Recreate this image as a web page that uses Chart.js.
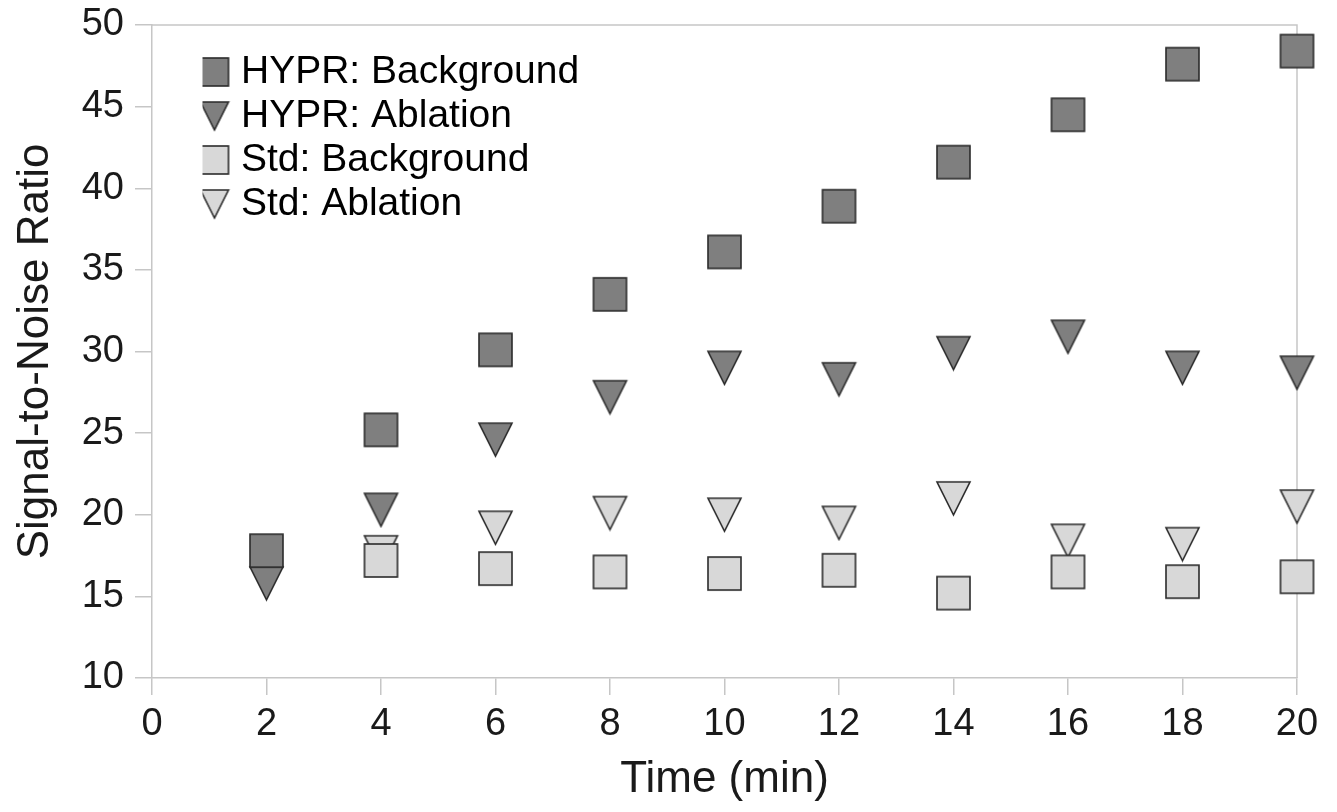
<!DOCTYPE html>
<html>
<head>
<meta charset="utf-8">
<title>Signal-to-Noise Ratio</title>
<script src="https://cdn.jsdelivr.net/npm/chart.js@4.4.0/dist/chart.umd.min.js"></script>
<style>
  html, body { margin: 0; padding: 0; background: #fff; }
</style>
</head>
<body>
<canvas id="myChart" width="1337" height="812"></canvas>
<script>
// data
const times = [2, 4, 6, 8, 10, 12, 14, 16, 18, 20];
const hyprBackground = [17.8, 25.2, 30.1, 33.5, 36.1, 38.9, 41.6, 44.5, 47.6, 48.4];
const hyprAblation = [15.8, 20.3, 24.6, 27.2, 29.0, 28.3, 29.9, 30.9, 29.0, 28.7];
const stdBackground = [null, 17.2, 16.7, 16.5, 16.4, 16.6, 15.2, 16.5, 15.9, 16.2];
const stdAblation = [null, 17.7, 19.2, 20.1, 20.0, 19.5, 21.0, 18.4, 18.2, 20.5];

const xTicks = [0, 2, 4, 6, 8, 10, 12, 14, 16, 18, 20];
const yTicks = [10, 15, 20, 25, 30, 35, 40, 45, 50];

const darkFill = '#7f7f7f';
const lightFill = '#d8d8d8';
const edge = '#2b2b2b';
const axisGrey = '#c6c6c6';
const fontFamily = '"Liberation Sans", Arial, sans-serif';

// marker images (square / downward triangle)
function makeMarker(shape, size, fill) {
  const c = document.createElement('canvas');
  c.width = size + 4;
  c.height = size + 4;
  const g = c.getContext('2d');
  g.fillStyle = fill;
  g.strokeStyle = edge;
  g.lineWidth = 1.6;
  const o = 2;
  if (shape === 'square') {
    g.fillRect(o, o, size, size);
    g.strokeRect(o, o, size, size);
  } else {
    g.beginPath();
    g.moveTo(o, o);
    g.lineTo(o + size, o);
    g.lineTo(o + size / 2, o + size);
    g.closePath();
    g.fill();
    g.stroke();
  }
  return c;
}

function toPoints(values) {
  const pts = [];
  values.forEach((v, i) => {
    if (v !== null) pts.push({ x: times[i], y: v });
  });
  return pts;
}

const series = [
  { label: 'HYPR: Background', values: hyprBackground, shape: 'square', fill: darkFill },
  { label: 'HYPR: Ablation', values: hyprAblation, shape: 'triangle', fill: darkFill },
  { label: 'Std: Background', values: stdBackground, shape: 'square', fill: lightFill },
  { label: 'Std: Ablation', values: stdAblation, shape: 'triangle', fill: lightFill },
];

const legendIcons = series.map((s) => makeMarker(s.shape, 28, s.fill));

const datasets = series.map((s) => {
  return {
    label: s.label,
    data: toPoints(s.values),
    pointStyle: makeMarker(s.shape, 33, s.fill),
    pointRadius: 17,
    pointHoverRadius: 17,
    backgroundColor: s.fill,
    borderColor: edge,
    clip: false,
  };
});

// top and right frame lines of the plot box
const frame = {
  id: 'frame',
  beforeDatasetsDraw(chart) {
    const a = chart.chartArea;
    const ctx = chart.ctx;
    ctx.save();
    ctx.strokeStyle = axisGrey;
    ctx.lineWidth = 1.5;
    ctx.beginPath();
    ctx.moveTo(a.left, a.top);
    ctx.lineTo(a.right, a.top);
    ctx.lineTo(a.right, a.bottom);
    ctx.stroke();
    ctx.restore();
  },
};

// put the legend in the upper left corner of the plot
const legendShift = {
  id: 'legendShift',
  afterLayout(chart) {
    const lg = chart.legend;
    if (lg) {
      lg.left = chart.chartArea.left + 50.5;
      lg.top = 47.5;
      lg.bottom = chart.chartArea.bottom;
    }
  },
};

const ctx = document.getElementById('myChart').getContext('2d');
const myChart = new Chart(ctx, {
  type: 'scatter',
  data: { datasets: datasets },
  options: {
    responsive: false,
    animation: false,
    layout: { padding: { top: 25, right: 40, bottom: 0, left: 0 } },
    plugins: {
      tooltip: { enabled: false },
      legend: {
        position: 'chartArea',
        align: 'start',
        labels: {
          usePointStyle: true,
          boxWidth: 14,
          padding: 5,
          color: '#1a1a1a',
          font: { family: fontFamily, size: 39 },
          generateLabels(chart) {
            return chart.data.datasets.map((ds, i) => ({
              text: ds.label,
              pointStyle: legendIcons[i],
              fillStyle: ds.backgroundColor,
              strokeStyle: edge,
              lineWidth: 0,
              hidden: false,
              datasetIndex: i,
            }));
          },
        },
      },
    },
    scales: {
      x: {
        type: 'linear',
        min: 0,
        max: 20,
        afterFit(scale) {
          scale.height = 134;
          scale.paddingLeft = 0;
          scale.paddingRight = 0;
        },
        afterBuildTicks(scale) { scale.ticks = xTicks.map((v) => ({ value: v })); },
        grid: { drawOnChartArea: false, tickLength: 17, color: axisGrey, lineWidth: 1.5 },
        border: { display: true, color: axisGrey, width: 1.5 },
        ticks: { color: '#1a1a1a', padding: 7, maxRotation: 0, font: { family: fontFamily, size: 38 } },
        title: {
          display: true,
          text: 'Time (min)',
          color: '#1a1a1a',
          padding: { top: 0, bottom: 6 },
          font: { family: fontFamily, size: 44 },
        },
      },
      y: {
        type: 'linear',
        min: 10,
        max: 50,
        afterFit(scale) {
          scale.width = 152;
          scale.paddingTop = 0;
          scale.paddingBottom = 0;
        },
        afterBuildTicks(scale) { scale.ticks = yTicks.map((v) => ({ value: v })); },
        grid: { drawOnChartArea: false, tickLength: 17, color: axisGrey, lineWidth: 1.5 },
        border: { display: true, color: axisGrey, width: 1.5 },
        ticks: { color: '#1a1a1a', padding: 11, font: { family: fontFamily, size: 38 } },
        title: {
          display: true,
          text: 'Signal-to-Noise Ratio',
          color: '#1a1a1a',
          padding: { top: 9, bottom: 0 },
          font: { family: fontFamily, size: 44 },
        },
      },
    },
  },
  plugins: [frame, legendShift],
});
</script>
</body>
</html>
